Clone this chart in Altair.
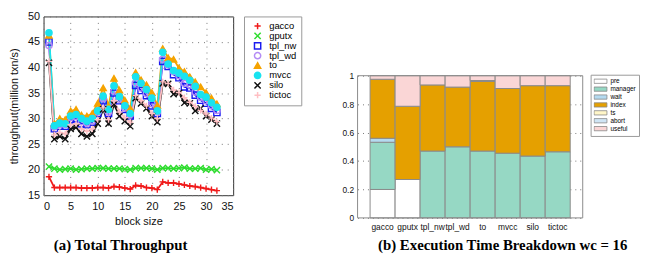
import altair as alt
import pandas as pd

# ---------------- (a) Total Throughput ----------------
block_size = list(range(1, 33))

gacco = [18.6, 16.5, 16.5, 16.5, 16.5, 16.5, 16.4, 16.4, 16.4, 16.5, 16.5, 16.4, 16.7, 16.6, 16.4, 16.2,
         16.9, 16.8, 16.5, 16.4, 16.1, 17.6, 17.4, 17.4, 17.2, 17.0, 16.8, 16.7, 16.5, 16.3, 16.1, 15.9]
gputx = [20.6, 20.2, 20.0, 20.1, 20.2, 20.0, 20.1, 20.2, 20.2, 20.3, 20.3, 20.2, 20.2, 20.2, 20.1, 20.0,
         20.3, 20.3, 20.3, 20.2, 20.0, 20.3, 20.3, 20.2, 20.3, 20.4, 20.2, 20.2, 20.3, 20.0, 20.1, 19.9]
tpl_nw = [45.0, 28.0, 28.5, 28.5, 29.8, 30.0, 29.0, 28.8, 29.3, 31.0, 33.5, 31.0, 35.0, 33.5, 31.8, 30.5,
          36.5, 35.5, 34.5, 32.5, 31.0, 41.2, 40.2, 38.6, 38.0, 36.2, 36.0, 34.6, 33.6, 33.0, 32.0, 31.2]
tpl_wd = [44.3, 28.4, 28.9, 28.8, 30.2, 30.4, 29.4, 29.1, 29.6, 31.3, 33.9, 31.3, 35.4, 33.8, 32.1, 30.8,
          37.0, 36.0, 34.9, 32.9, 31.3, 41.6, 40.5, 39.2, 38.4, 36.9, 36.6, 35.2, 34.2, 33.5, 32.5, 31.6]
to = [46.3, 29.0, 30.0, 29.8, 31.5, 31.8, 30.7, 30.5, 31.0, 33.0, 36.0, 32.5, 37.9, 35.6, 33.6, 32.0,
      39.0, 37.6, 36.6, 35.1, 32.6, 43.7, 41.9, 41.6, 39.9, 39.2, 38.2, 37.2, 36.2, 35.1, 34.0, 32.9]
mvcc = [46.8, 28.6, 29.1, 29.0, 30.5, 30.8, 30.0, 29.5, 30.0, 31.5, 34.4, 31.8, 36.4, 34.3, 32.5, 31.0,
        38.2, 36.9, 35.7, 34.0, 31.5, 43.0, 40.7, 39.4, 38.9, 38.3, 37.5, 36.3, 34.7, 34.2, 33.1, 32.2]
silo = [40.9, 26.0, 26.5, 26.0, 28.0, 28.3, 27.0, 26.5, 27.0, 29.0, 31.8, 29.0, 32.8, 30.5, 29.5, 28.5,
        34.0, 33.0, 32.0, 30.5, 29.3, 36.9, 36.8, 34.8, 35.0, 33.1, 33.0, 31.5, 32.0, 30.5, 29.8, 29.0]
tictoc = [41.2, 26.8, 27.3, 27.0, 28.8, 29.0, 28.0, 27.5, 28.0, 29.8, 32.1, 29.8, 33.5, 31.3, 30.2, 29.3,
          34.5, 33.5, 32.5, 31.0, 30.0, 37.2, 36.9, 35.6, 35.1, 34.1, 33.2, 32.4, 31.6, 30.9, 30.1, 29.4]

series_names = ["gacco", "gputx", "tpl_nw", "tpl_wd", "to", "mvcc", "silo", "tictoc"]
series_values = [gacco, gputx, tpl_nw, tpl_wd, to, mvcc, silo, tictoc]
series_colors = ["#F01A1A", "#2EDC2E", "#1A1AF0", "#B48CF5", "#F5A300", "#19E3F0", "#111111", "#FFBFC3"]
series_fills = ["transparent", "transparent", "transparent", "transparent",
                "#F5A300", "#19E3F0", "transparent", "transparent"]
PLUS = "M-1,0L1,0M0,-1L0,1"
XSHAPE = "M-1,-1L1,1M-1,1L1,-1"
SQUARE = "M-1,-1L1,-1L1,1L-1,1Z"
series_shapes = [PLUS, XSHAPE, SQUARE, "circle", "triangle-up", "circle", XSHAPE, PLUS]

rows = []
for name, vals in zip(series_names, series_values):
    for b, v in zip(block_size, vals):
        rows.append({"series": name, "block": b, "thr": v})
df_line = pd.DataFrame(rows)

LW, LH = 192, 181
FONT = "Liberation Sans"

x_enc = alt.X("block:Q", scale=alt.Scale(domain=[0, 35], nice=False),
              axis=alt.Axis(values=[0, 5, 10, 15, 20, 25, 30, 35], title="block size",
                            grid=True, gridDash=[1, 5], gridColor="#777", ticks=False, domain=False,
                            labelPadding=5, titlePadding=5, labelFontSize=11, titleFontSize=11))
y_enc = alt.Y("thr:Q", scale=alt.Scale(domain=[15, 50], nice=False, zero=False),
              axis=alt.Axis(values=[15, 20, 25, 30, 35, 40, 45, 50], title="throughput(million txn/s)",
                            grid=True, gridDash=[1, 5], gridColor="#777", ticks=False, domain=False,
                            labelPadding=4, titlePadding=8, labelFontSize=11, titleFontSize=11))

leg_a = alt.Legend(title=None, orient="none", legendX=203, legendY=0, labelFontSize=9.5,
                   labelFont=FONT, symbolSize=40, symbolStrokeWidth=1.5, strokeColor="#999",
                   padding=5, rowPadding=-3, clipHeight=9.4, labelOffset=7, symbolOffset=4,
                   fillColor="white")

stroke_scale = alt.Scale(domain=series_names, range=series_colors)
fill_scale = alt.Scale(domain=series_names, range=series_fills)
shape_scale = alt.Scale(domain=series_names, range=series_shapes)

lines = alt.Chart(df_line).mark_line(strokeWidth=1.8).encode(
    x=x_enc, y=y_enc,
    stroke=alt.Stroke("series:N", scale=stroke_scale, sort=series_names, legend=leg_a),
)
points = alt.Chart(df_line).mark_point(size=40, strokeWidth=1.4, opacity=1, filled=False).encode(
    x=x_enc, y=y_enc,
    stroke=alt.Stroke("series:N", scale=stroke_scale, sort=series_names, legend=leg_a),
    fill=alt.Fill("series:N", scale=fill_scale, sort=series_names, legend=leg_a),
    shape=alt.Shape("series:N", scale=shape_scale, sort=series_names, legend=leg_a),
)

left = alt.layer(lines, points).properties(
    width=LW, height=LH,
    view=alt.ViewBackground(stroke="#333", strokeWidth=1),
    title=alt.TitleParams("(a) Total Throughput", orient="bottom", font="Liberation Serif",
                          fontSize=15, fontWeight="bold", anchor="middle", dx=-18, offset=11,
                          color="black"),
)

# ---------------- (b) Execution Time Breakdown ----------------
systems = ["gacco", "gputx", "tpl_nw", "tpl_wd", "to", "mvcc", "silo", "tictoc"]
components = ["pre", "manager", "wait", "index", "ts", "abort", "useful"]
pre = [0.200, 0.270, 0.0, 0.0, 0.0, 0.0, 0.0, 0.0]
manager = [0.332, 0.0, 0.470, 0.500, 0.470, 0.455, 0.435, 0.465]
wait = [0.028, 0.0, 0.0, 0.0, 0.0, 0.0, 0.0, 0.0]
index = [0.415, 0.515, 0.465, 0.420, 0.490, 0.455, 0.495, 0.465]
ts = [0.0, 0.0, 0.0, 0.0, 0.003, 0.0, 0.0, 0.0]
abort = [0.0, 0.0, 0.0, 0.0, 0.003, 0.0, 0.0, 0.0]
useful = [0.025, 0.215, 0.065, 0.080, 0.034, 0.090, 0.070, 0.070]
component_values = [pre, manager, wait, index, ts, abort, useful]
component_colors = ["#FFFFFF", "#96D8C4", "#B4DAF0", "#E5A000", "#FFF6C8", "#CFE5F5", "#FAD6D6"]

brows = []
for k, (comp, vals) in enumerate(zip(components, component_values)):
    for s, v in zip(systems, vals):
        if v > 0:
            brows.append({"system": s, "component": comp, "k": k, "value": v})
df_bar = pd.DataFrame(brows)

BW, BH = 228, 204
YMAX = BH / 144.0

leg_b = alt.Legend(title=None, orient="none", legendX=236, legendY=59, labelFontSize=6.5,
                   labelFont=FONT, symbolType="M-1,-0.33L1,-0.33L1,0.33L-1,0.33Z", symbolSize=170,
                   symbolStrokeColor="#888", symbolStrokeWidth=0.8, strokeColor="#999",
                   padding=3, rowPadding=-1, clipHeight=7.2, labelOffset=3, fillColor="white")

bars = alt.Chart(df_bar).mark_bar(stroke="#8a8a8a", strokeWidth=1).encode(
    x=alt.X("system:N", sort=systems, scale=alt.Scale(paddingInner=0, paddingOuter=0.5),
            axis=alt.Axis(title=None, labelAngle=0, ticks=False, domain=False, labelFontSize=8.5,
                          labelPadding=5)),
    y=alt.Y("value:Q", stack="zero", scale=alt.Scale(domain=[0, YMAX], nice=False),
            axis=alt.Axis(values=[0, 0.2, 0.4, 0.6, 0.8, 1], format="~g", title=None, domain=False,
                          ticks=False, grid=True, gridDash=[1, 4], gridColor="#777",
                          labelFontSize=8.5, labelPadding=4)),
    color=alt.Color("component:N", sort=components,
                    scale=alt.Scale(domain=components, range=component_colors), legend=leg_b),
    order=alt.Order("k:Q", sort="ascending"),
)

frame_h = alt.Chart(pd.DataFrame({"value": [0.0, 1.0]})).mark_rule(color="#8a8a8a").encode(
    y="value:Q", x=alt.value(0), x2=alt.value(BW))
frame_l = alt.Chart(pd.DataFrame({"value": [0.0]})).mark_rule(color="#8a8a8a").encode(
    x=alt.value(0), y=alt.datum(0), y2=alt.datum(1))
frame_r = alt.Chart(pd.DataFrame({"value": [0.0]})).mark_rule(color="#8a8a8a").encode(
    x=alt.value(BW), y=alt.datum(0), y2=alt.datum(1))

right = alt.layer(bars, frame_h, frame_l, frame_r).properties(
    width=BW, height=BH,
    view=alt.ViewBackground(stroke="transparent"),
    title=alt.TitleParams("(b) Execution Time Breakdown wc = 16", orient="bottom",
                          font="Liberation Serif", fontSize=15, fontWeight="bold",
                          anchor="middle", dx=33, offset=7, color="black"),
)

chart = alt.hconcat(left, right, spacing=39).resolve_scale(
    color="independent", fill="independent", stroke="independent", shape="independent",
    x="independent", y="independent",
).resolve_legend(color="independent", fill="independent", stroke="independent",
                 shape="independent").configure(
    padding={"left": 0, "top": 0, "right": 0, "bottom": 0},
    font=FONT,
).configure_axis(
    labelFont=FONT, titleFont=FONT, labelColor="#111", titleColor="#111", titleFontWeight="normal",
).configure_view(stroke="transparent")

chart.save("out.html", embed_options={"renderer": "svg", "actions": False})
